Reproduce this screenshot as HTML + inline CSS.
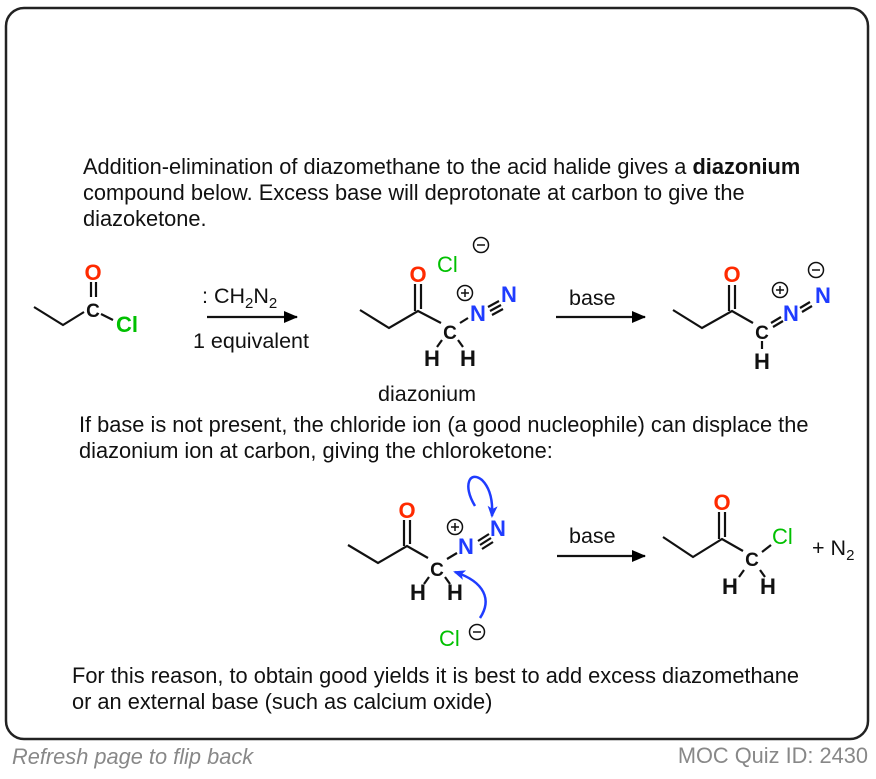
<!DOCTYPE html>
<html><head><meta charset="utf-8"><style>
body{margin:0;background:#fff;width:876px;height:774px;overflow:hidden;font-family:"Liberation Sans",sans-serif}
</style></head><body>
<svg width="876" height="774" viewBox="0 0 876 774" xmlns="http://www.w3.org/2000/svg" font-family="Liberation Sans, sans-serif">
<defs>
<marker id="ah" markerWidth="14" markerHeight="12" refX="13" refY="6" orient="auto" markerUnits="userSpaceOnUse"><path d="M0,0 L14,6 L0,12 z" fill="#000"/></marker>
<marker id="bh" markerWidth="12" markerHeight="10" refX="10" refY="5" orient="auto" markerUnits="userSpaceOnUse"><path d="M0,0 L12,5 L0,10 L3,5 z" fill="#1f3cff"/></marker>
</defs>
<rect x="6" y="8" width="862" height="731" rx="18" fill="#fff" stroke="#222" stroke-width="2.5"/>
<g font-size="21.8" fill="#111">
<text x="83" y="174">Addition-elimination of diazomethane to the acid halide gives a <tspan font-weight="bold">diazonium</tspan></text>
<text x="83" y="200">compound below. Excess base will deprotonate at carbon to give the</text>
<text x="83" y="226">diazoketone.</text>
<text x="79" y="432">If base is not present, the chloride ion (a good nucleophile) can displace the</text>
<text x="79" y="458">diazonium ion at carbon, giving the chloroketone:</text>
<text x="72" y="683">For this reason, to obtain good yields it is best to add excess diazomethane</text>
<text x="72" y="709">or an external base (such as calcium oxide)</text>
</g>
<g stroke="#111" stroke-width="2.2" fill="none">
<polyline points="34,307 63,325 84,312"/>
<line x1="91" y1="282" x2="91" y2="297"/><line x1="96" y1="282" x2="96" y2="297"/>
<line x1="101" y1="314" x2="113" y2="320"/>
<polyline points="360,310 389,328 418,311 441,323"/>
<line x1="415" y1="284" x2="415" y2="311"/><line x1="421" y1="284" x2="421" y2="309"/>
<line x1="460" y1="323" x2="468" y2="318"/>
<line x1="442" y1="340" x2="437" y2="347"/><line x1="458" y1="340" x2="463" y2="347"/>
<line x1="488" y1="307" x2="499" y2="301"/><line x1="490" y1="311" x2="501" y2="305"/><line x1="492" y1="315" x2="503" y2="309"/>
<polyline points="673,310 702,328 732,311 753,323"/>
<line x1="729" y1="285" x2="729" y2="311"/><line x1="735" y1="285" x2="735" y2="309"/>
<line x1="771" y1="323" x2="781" y2="317"/><line x1="773" y1="327" x2="783" y2="321"/>
<line x1="800" y1="308" x2="810" y2="302"/><line x1="802" y1="312" x2="812" y2="306"/>
<line x1="762" y1="341" x2="762" y2="349"/>
<polyline points="348,545 378,563 407,546 428,558"/>
<line x1="404" y1="520" x2="404" y2="546"/><line x1="410" y1="520" x2="410" y2="544"/>
<line x1="447" y1="559" x2="457" y2="553"/>
<line x1="429" y1="577" x2="424" y2="584"/><line x1="445" y1="577" x2="450" y2="584"/>
<line x1="478" y1="541" x2="489" y2="534"/><line x1="480" y1="545" x2="491" y2="538"/><line x1="482" y1="549" x2="493" y2="542"/>
<polyline points="663,537 693,557 722,539 743,551"/>
<line x1="719" y1="512" x2="719" y2="539"/><line x1="725" y1="512" x2="725" y2="537"/>
<line x1="762" y1="552" x2="771" y2="545"/>
<line x1="744" y1="570" x2="739" y2="577"/><line x1="760" y1="570" x2="765" y2="577"/>
<line x1="207" y1="317" x2="297" y2="317" marker-end="url(#ah)"/>
<line x1="556" y1="317" x2="645" y2="317" marker-end="url(#ah)"/>
<line x1="557" y1="556" x2="645" y2="556" marker-end="url(#ah)"/>
</g>
<g stroke="#1f3cff" stroke-width="2.5" fill="none">
<path d="M475,506 C462,485 470,470 482,480 C490,488 493,500 492,516" marker-end="url(#bh)"/>
<path d="M480,618 C492,600 485,582 455,572" marker-end="url(#bh)"/>
</g>
<g font-size="22" font-weight="bold" text-anchor="middle">
<text x="93" y="280" fill="#ff2a00">O</text>
<text x="93" y="317" fill="#111" font-size="19">C</text>
<text x="127" y="332" fill="#00c000">Cl</text>
<text x="418" y="282" fill="#ff2a00">O</text>
<text x="450" y="339" fill="#111" font-size="19">C</text>
<text x="478" y="321" fill="#1f3cff">N</text>
<text x="509" y="302" fill="#1f3cff">N</text>
<text x="432" y="366" fill="#111">H</text>
<text x="468" y="366" fill="#111">H</text>
<text x="732" y="282" fill="#ff2a00">O</text>
<text x="762" y="339" fill="#111" font-size="19">C</text>
<text x="791" y="321" fill="#1f3cff">N</text>
<text x="823" y="303" fill="#1f3cff">N</text>
<text x="762" y="369" fill="#111">H</text>
<text x="407" y="518" fill="#ff2a00">O</text>
<text x="437" y="576" fill="#111" font-size="19">C</text>
<text x="466" y="554" fill="#1f3cff">N</text>
<text x="498" y="536" fill="#1f3cff">N</text>
<text x="418" y="600" fill="#111">H</text>
<text x="455" y="600" fill="#111">H</text>
<text x="722" y="510" fill="#ff2a00">O</text>
<text x="752" y="566" fill="#111" font-size="19">C</text>
<text x="730" y="594" fill="#111">H</text>
<text x="768" y="594" fill="#111">H</text>
</g>
<g font-size="22" fill="#00c000">
<text x="437" y="272">Cl</text>
<text x="439" y="646">Cl</text>
<text x="772" y="544">Cl</text>
</g>
<g stroke="#111" stroke-width="1.5" fill="none">
<circle cx="481" cy="245" r="7.5"/><line x1="477" y1="245" x2="485" y2="245"/>
<circle cx="465" cy="293" r="7.5"/><line x1="461" y1="293" x2="469" y2="293"/><line x1="465" y1="289" x2="465" y2="297"/>
<circle cx="780" cy="290" r="7.5"/><line x1="776" y1="290" x2="784" y2="290"/><line x1="780" y1="286" x2="780" y2="294"/>
<circle cx="816" cy="270" r="7.5"/><line x1="812" y1="270" x2="820" y2="270"/>
<circle cx="455" cy="527" r="7.5"/><line x1="451" y1="527" x2="459" y2="527"/><line x1="455" y1="523" x2="455" y2="531"/>
<circle cx="477" cy="632" r="7.5"/><line x1="473" y1="632" x2="481" y2="632"/>
</g>
<g font-size="21.5" fill="#111">
<text x="202" y="303">: CH<tspan font-size="15" dy="5">2</tspan><tspan dy="-5">N</tspan><tspan font-size="15" dy="5">2</tspan></text>
<text x="193" y="348">1 equivalent</text>
<text x="569" y="305">base</text>
<text x="569" y="543">base</text>
<text x="378" y="401">diazonium</text>
<text x="812" y="555">+ N<tspan font-size="15" dy="5">2</tspan></text>
</g>
<text x="12" y="764" font-size="21.8" font-style="italic" fill="#888">Refresh page to flip back</text>
<text x="868" y="763" font-size="21.8" fill="#888" text-anchor="end">MOC Quiz ID: 2430</text>
</svg>
</body></html>
